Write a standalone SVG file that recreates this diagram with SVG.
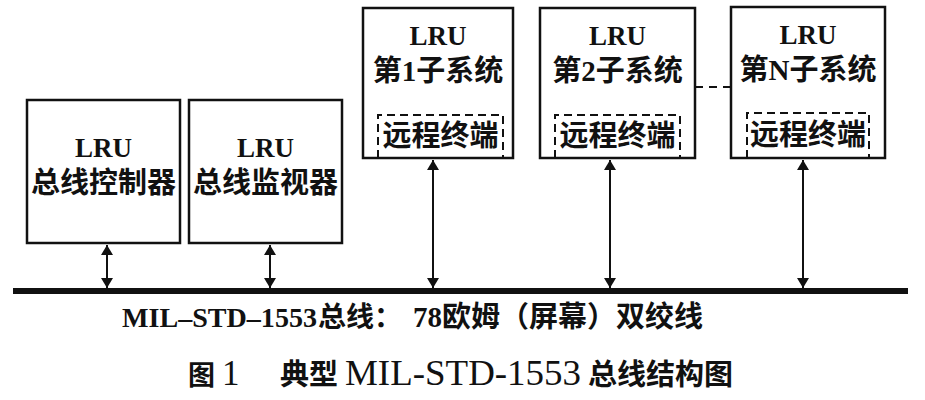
<svg xmlns="http://www.w3.org/2000/svg" width="925" height="400" viewBox="0 0 925 400">
<defs>
<marker id="ah" viewBox="0 0 10 12" refX="10" refY="6" markerWidth="10" markerHeight="12" markerUnits="userSpaceOnUse" orient="auto-start-reverse">
<path d="M0,0 L10,6 L0,12 Z" fill="#111"/>
</marker>
</defs>
<style>
.box{fill:#fff;stroke:#111;stroke-width:2.5}
.rt{fill:none;stroke:#111;stroke-width:2;stroke-dasharray:8 5}
.t{font-family:"Liberation Serif","Noto Sans CJK SC",serif;font-weight:bold;fill:#111;text-anchor:middle}
.lru{font-size:27px}
.cn{font-size:29px}
.arr{stroke:#111;stroke-width:2;marker-start:url(#ah);marker-end:url(#ah)}
.lbl{font-family:"Liberation Serif","Noto Sans CJK SC",serif;font-weight:bold;fill:#111}
.cap{font-family:"Liberation Serif","Noto Sans CJK SC",serif;fill:#111}
</style>
<rect width="925" height="400" fill="#fff"/>

<g id="bc">
<rect class="box" x="27" y="100" width="153" height="143"/>
<text class="t lru" x="103.5" y="157">LRU</text>
<text class="t cn" x="103.5" y="193">总线控制器</text>
</g>
<g id="bm">
<rect class="box" x="189" y="100" width="153" height="143"/>
<text class="t lru" x="265.5" y="157">LRU</text>
<text class="t cn" x="265.5" y="193">总线监视器</text>
</g>
<g id="rt1">
<rect class="box" x="363" y="8" width="150" height="150"/>
<text class="t lru" x="438" y="45">LRU</text>
<text class="t cn" x="438" y="81">第1子系统</text>
<path class="rt" d="M378,158 V115 H503 V158"/>
<text class="t cn" x="440.5" y="146">远程终端</text>
</g>
<g id="rt2">
<rect class="box" x="540" y="8" width="155" height="150"/>
<text class="t lru" x="617.5" y="45">LRU</text>
<text class="t cn" x="617.5" y="81">第2子系统</text>
<path class="rt" d="M555,158 V115 H680 V158"/>
<text class="t cn" x="617.5" y="146">远程终端</text>
</g>
<g id="rtn">
<rect class="box" x="731" y="7" width="154" height="151"/>
<text class="t lru" x="808" y="44">LRU</text>
<text class="t cn" x="808" y="80">第N子系统</text>
<path class="rt" d="M747,158 V113 H869 V158"/>
<text class="t cn" x="808" y="145">远程终端</text>
</g>

<g id="bus">
<rect x="13" y="288" width="895" height="6" fill="#111"/>
</g>

<g id="connectors">
<line class="arr" x1="107" y1="245" x2="107" y2="288"/>
<line class="arr" x1="270" y1="245" x2="270" y2="288"/>
<line class="arr" x1="433" y1="160" x2="433" y2="288"/>
<line class="arr" x1="610" y1="160" x2="610" y2="288"/>
<line class="arr" x1="803" y1="160" x2="803" y2="288"/>
<line x1="695" y1="87" x2="731" y2="87" stroke="#111" stroke-width="2" stroke-dasharray="8 6"/>
</g>

<text class="lbl" y="327"><tspan x="122" style="font-size:27px" textLength="195" lengthAdjust="spacingAndGlyphs">MIL–STD–1553</tspan><tspan x="318" style="font-size:28px">总线：</tspan><tspan x="413" style="font-size:29px">78欧姆（屏幕）双绞线</tspan></text>

<g id="caption">
<text class="cap" y="385"><tspan x="188" font-weight="bold" style="font-size:27px">图</tspan><tspan x="222" style="font-size:35px">1</tspan><tspan x="280" font-weight="bold" style="font-size:29px">典型</tspan><tspan x="345" style="font-size:35px" textLength="236" lengthAdjust="spacingAndGlyphs">MIL-STD-1553</tspan><tspan x="588" font-weight="bold" style="font-size:29px">总线结构图</tspan></text>
</g>
</svg>
